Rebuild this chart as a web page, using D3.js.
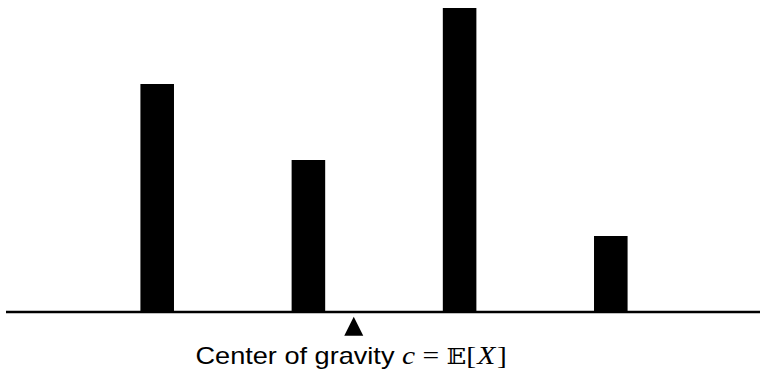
<!DOCTYPE html>
<html>
<head>
<meta charset="utf-8">
<script src="https://cdn.jsdelivr.net/npm/d3@7"></script>
<style>
  html, body { margin: 0; padding: 0; background: #fff; }
  svg { display: block; }
</style>
</head>
<body>
<svg id="chart" width="760" height="371"></svg>
<script>
// Outcomes of X and their probability weights (unnormalised)
const outcomes = [1, 2, 3, 4];
const weights = [3, 2, 4, 1];
const labelText = "Center of gravity ";

const width = 760, height = 371;
const svg = d3.select("#chart");

const x = d3.scaleLinear().domain([0, 5]).range([6, 762]);
const y = d3.scaleLinear().domain([0, 4]).range([312, 8]);
const barHalf = 0.111; // half bar width in outcome units

// Expected value: the balance point of the weights
const total = d3.sum(weights);
const mean = d3.sum(outcomes, (v, i) => v * weights[i]) / total;

// Bars
svg.selectAll("rect.bar")
  .data(outcomes.map((v, i) => ({ v, w: weights[i] })))
  .join("rect")
  .attr("class", "bar")
  .attr("x", d => x(d.v - barHalf))
  .attr("width", d => x(d.v + barHalf) - x(d.v - barHalf))
  .attr("y", d => y(d.w))
  .attr("height", d => y(0) - y(d.w))
  .attr("fill", "#000");

// Baseline
svg.append("line")
  .attr("x1", x(0)).attr("x2", width)
  .attr("y1", y(0)).attr("y2", y(0))
  .attr("stroke", "#000")
  .attr("stroke-width", 2.4);

// Fulcrum triangle at the mean
const cx = x(mean);
const tTop = 316.7, tSize = 19;
svg.append("path")
  .attr("d", `M${cx},${tTop}L${cx + tSize / 2},${tTop + tSize}L${cx - tSize / 2},${tTop + tSize}Z`)
  .attr("fill", "#000");

// Caption, set slightly wide
const stretch = 1.18;
const captionX = cx - 2.6;
const labelG = svg.append("g")
  .attr("transform", `translate(${captionX},364) scale(${stretch},1)`);
const label = labelG.append("text")
  .attr("x", 0)
  .attr("y", 0)
  .attr("text-anchor", "middle")
  .attr("font-size", 23)
  .attr("fill", "#000");
const serif = "'Liberation Serif', 'Times New Roman', serif";
label.append("tspan")
  .attr("font-family", "'Liberation Sans', Arial, Helvetica, sans-serif")
  .text(labelText);
label.append("tspan")
  .attr("font-family", serif)
  .attr("font-style", "italic")
  .attr("font-size", 25)
  .text("c");
label.append("tspan")
  .attr("font-family", serif)
  .attr("font-size", 25)
  .text(" = ");
label.append("tspan")
  .attr("font-family", "'DejaVu Serif', 'DejaVu Sans', serif")
  .attr("font-size", 22)
  .text("\u{1D53C}");
label.append("tspan")
  .attr("font-family", serif)
  .attr("font-size", 25)
  .text("[");
label.append("tspan")
  .attr("font-family", serif)
  .attr("font-style", "italic")
  .attr("font-size", 25)
  .attr("dx", 1)
  .text("X");
label.append("tspan")
  .attr("font-family", serif)
  .attr("font-size", 25)
  .attr("dx", 1.5)
  .text("]");
</script>
</body>
</html>
